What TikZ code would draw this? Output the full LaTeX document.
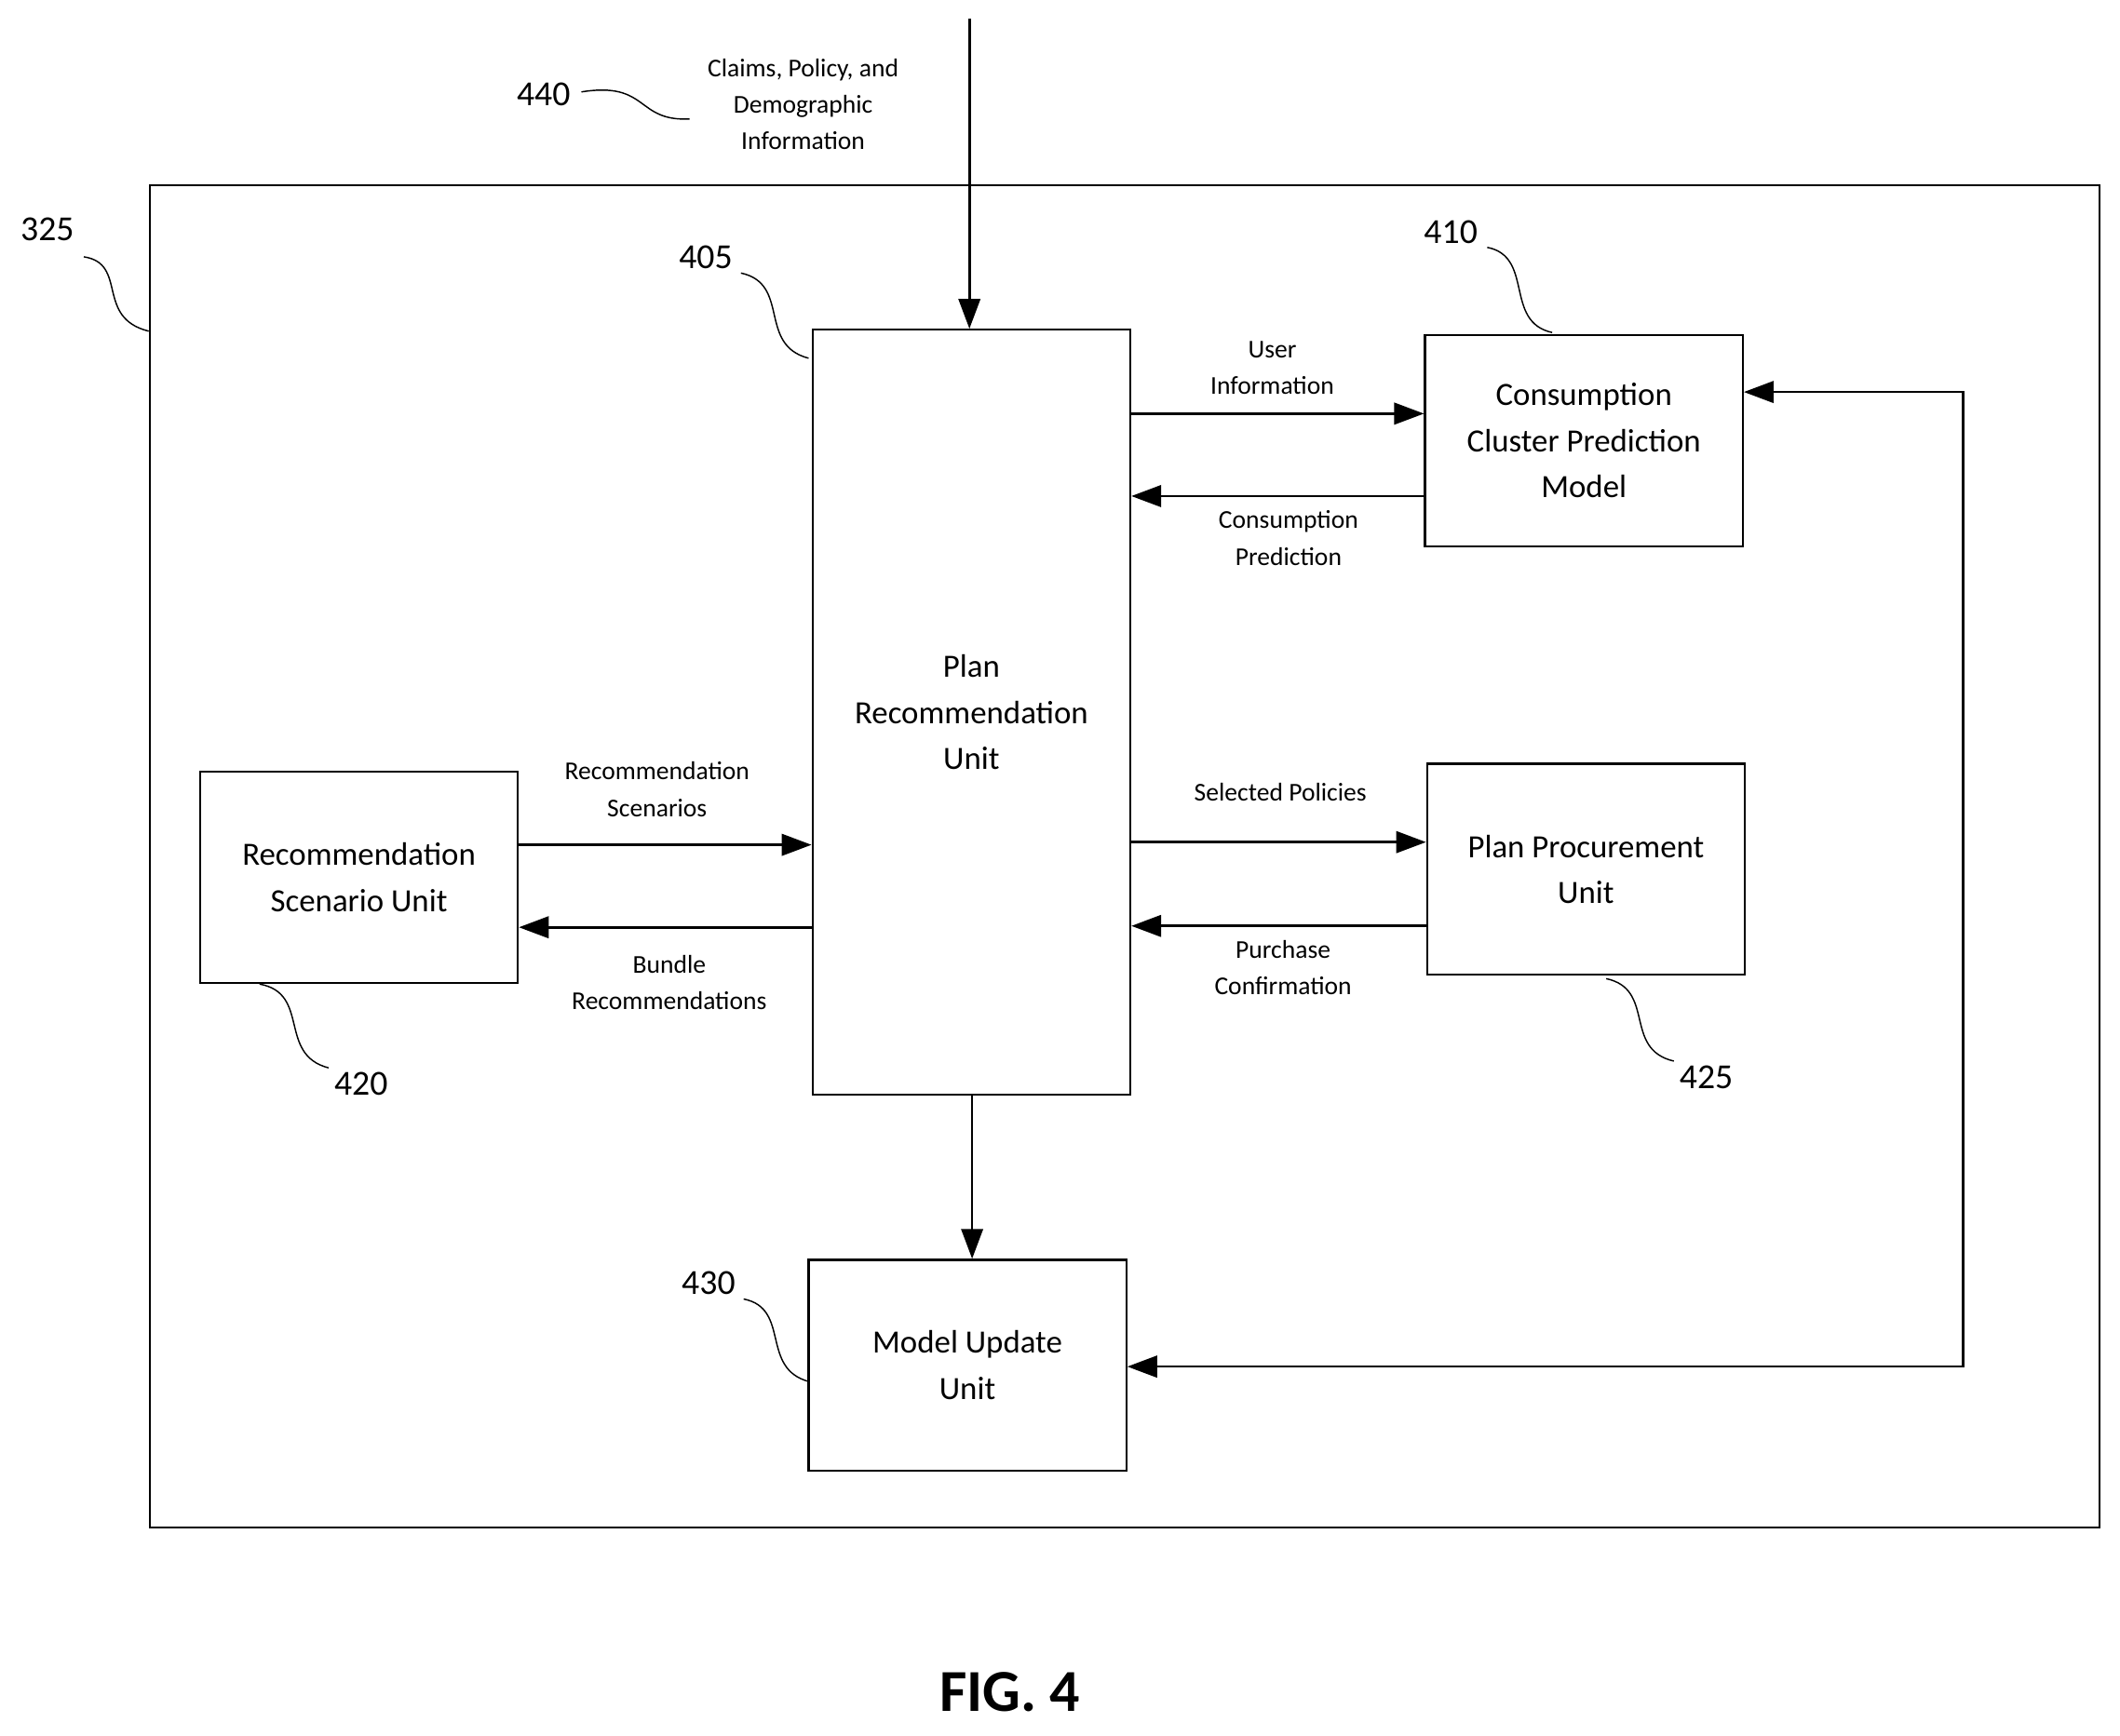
\documentclass[tikz,border=0pt]{standalone}
\usepackage{fontspec}
\setmainfont{Carlito}
\usetikzlibrary{arrows.meta}
\begin{document}
\begin{tikzpicture}[x=1pt,y=-1pt,
 box/.style={draw,line width=1.6pt,minimum width=235pt,minimum height=156pt,align=center,font=\fontsize{24}{34}\selectfont,inner sep=0},
 lab/.style={align=center,font=\fontsize{19}{27}\selectfont},
 num/.style={font=\fontsize{26}{30}\selectfont},
 arr/.style={line width=1.8pt,-{Triangle[length=22pt,width=16pt]}},
 sq/.style={line width=1pt}]
\useasboundingbox (0,0) rectangle (1568,1284);
\node[draw,line width=1.6pt,minimum width=1442pt,minimum height=993pt,inner sep=0] (outer) at (832,633.5) {};
\node[box,minimum height=566pt] (plan) at (718.5,527) {Plan\\Recommendation\\Unit};
\node[box] (cons) at (1171.5,326) {Consumption\\Cluster Prediction\\Model};
\node[box] (proc) at (1173,643) {Plan Procurement\\Unit};
\node[box] (rec) at (265.5,649) {Recommendation\\Scenario Unit};
\node[box] (model) at (715.5,1010) {Model Update\\Unit};
\coordinate (in) at (717,14);
\draw[arr] (in) -- (plan.north -| in);
\draw[arr] (plan.east |- 0,306) -- (cons.west |- 0,306);
\draw[arr] (cons.west |- 0,367) -- (plan.east |- 0,367);
\draw[arr] (plan.east |- 0,623) -- (proc.west |- 0,623);
\draw[arr] (proc.west |- 0,685) -- (plan.east |- 0,685);
\draw[arr] (rec.east |- 0,625) -- (plan.west |- 0,625);
\draw[arr] (plan.west |- 0,686) -- (rec.east |- 0,686);
\draw[arr] (plan.south -| 719,0) -- (model.north -| 719,0);
\draw[line width=1.8pt,{Triangle[length=22pt,width=16pt]}-{Triangle[length=22pt,width=16pt]}] (model.east |- 0,1011) -- (1452,1011) -- (1452,290) -- (cons.east |- 0,290);
\node[lab] (l1) at (941,272) {User\\Information};
\node[lab] (l2) at (953,398) {Consumption\\Prediction};
\node[lab] (l3) at (947,586) {Selected Policies};
\node[lab] (l4) at (949,716) {Purchase\\Confirmation};
\node[lab] (l5) at (486,584) {Recommendation\\Scenarios};
\node[lab] (l6) at (495,727) {Bundle\\Recommendations};
\node[lab] (l7) at (594,77) {Claims, Policy, and\\Demographic\\Information};
\node[num] (n325) at (35,170) {325};
\node[num] (n440) at (402,70) {440};
\node[num] (n405) at (522,190) {405};
\node[num] (n410) at (1073,172) {410};
\node[num] (n420) at (267,802) {420};
\node[num] (n425) at (1262,797) {425};
\node[num] (n430) at (524,949) {430};
\draw[sq] (62,190) .. controls (95,195) and (70,235) .. (110,245);
\draw[sq] (430,68) .. controls (480,60) and (470,90) .. (510,88);
\draw[sq] (548,202) .. controls (585,210) and (560,255) .. (598,265);
\draw[sq] (1100,183) .. controls (1135,190) and (1112,238) .. (1148,246);
\draw[sq] (192,728) .. controls (230,735) and (205,780) .. (243,790);
\draw[sq] (1188,724) .. controls (1225,732) and (1200,776) .. (1238,785);
\draw[sq] (550,961) .. controls (585,968) and (562,1012) .. (598,1022);
\node[font=\bfseries\fontsize{44}{50}\selectfont] (fig) at (747,1252) {FIG. 4};
\end{tikzpicture}
\end{document}
